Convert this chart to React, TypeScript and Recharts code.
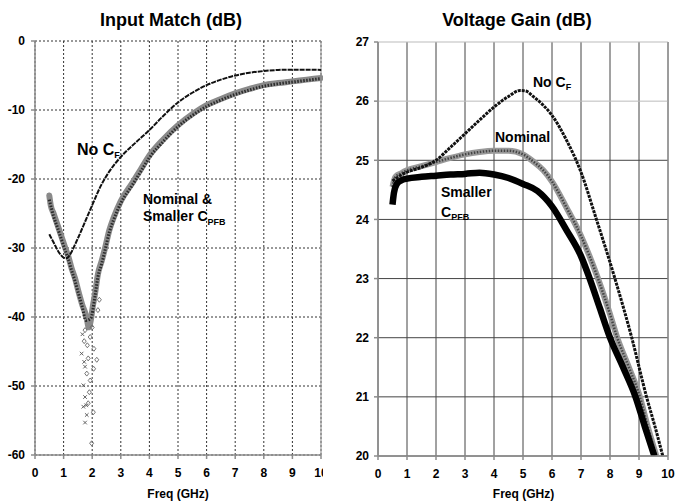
import {
  ComposedChart,
  Line,
  Scatter,
  XAxis,
  YAxis,
  CartesianGrid,
  ReferenceLine,
} from 'recharts';

// shared axis ticks
const FREQ_TICKS = [0, 1, 2, 3, 4, 5, 6, 7, 8, 9, 10];
const MATCH_TICKS = [-60, -50, -40, -30, -20, -10, 0];
const GAIN_TICKS = [20, 21, 22, 23, 24, 25, 26, 27];

// Input match (dB) vs freq (GHz)
const MATCH_NO_CF = [
  [0.5, -28], [0.6, -28.8], [0.7, -29.6], [0.8, -30.4], [0.9, -31], [1.0, -31.4],
  [1.1, -31.5], [1.2, -31.1], [1.3, -30.4], [1.4, -29.5], [1.5, -28.6], [1.75, -26.2],
  [2.0, -23.8], [2.3, -21], [2.6, -18.9], [3.0, -16.8], [3.5, -14.8], [4.0, -12.9],
  [4.5, -10.8], [5.0, -8.9], [5.5, -7.5], [6.0, -6.4], [6.5, -5.6], [7.0, -5.0],
  [7.5, -4.6], [8.0, -4.35], [8.5, -4.2], [9.0, -4.15], [9.5, -4.15], [10, -4.2],
];
const MATCH_NOMINAL = [
  [0.5, -22.4], [0.55, -23.8], [0.65, -25], [0.8, -26.8], [0.93, -28.4], [1.05, -29.9],
  [1.17, -31.3], [1.27, -32.8], [1.4, -34.4], [1.52, -36.3], [1.65, -38.2], [1.8, -40],
  [1.88, -41.5], [1.95, -40.5], [2.02, -38.5], [2.1, -36.6], [2.2, -33.8], [2.33, -31.9],
  [2.45, -30.0], [2.6, -27.4], [2.75, -25.6], [3.0, -23.2], [3.4, -20.6], [3.7, -18.6],
  [4.0, -16.6], [4.5, -14.2], [5.0, -12.2], [5.5, -10.6], [6.0, -9.3], [6.5, -8.4],
  [7.0, -7.6], [7.5, -6.95], [8.0, -6.4], [8.5, -6.1], [9.0, -5.85], [9.5, -5.6], [10, -5.35],
];
const MATCH_SMALLER = [
  [0.5, -23], [0.65, -25.4], [0.8, -27.2], [0.93, -28.8], [1.05, -30.3], [1.17, -31.7],
  [1.27, -33.1], [1.4, -34.8], [1.52, -36.6], [1.65, -38.5], [1.78, -40.5], [1.95, -40.2],
  [2.1, -36.9], [2.2, -34.2], [2.33, -32.3], [2.45, -30.3], [2.6, -27.7], [2.75, -25.9],
  [3.0, -23.5], [3.4, -20.9], [3.7, -18.9], [4.0, -16.9], [4.5, -14.5], [5.0, -12.4],
  [5.5, -10.8], [6.0, -9.5], [6.5, -8.55], [7.0, -7.75], [7.5, -7.1], [8.0, -6.55],
  [8.5, -6.2], [9.0, -5.95], [9.5, -5.7], [10, -5.45],
];
// scattered points in the notch around 2 GHz
const NOTCH_NOMINAL = [
  [1.75, -41.9], [1.93, -42.9], [1.86, -46], [2.16, -46.2], [2.06, -44.6], [1.81, -48.2],
  [1.93, -49.2], [1.9, -50.9], [1.86, -52.5], [2.04, -53.8], [1.98, -58.3], [1.83, -44.1],
  [2.0, -41.5], [1.72, -43.5], [2.2, -39], [2.25, -37.5], [2.05, -47.5],
];
const NOTCH_SMALLER = [
  [1.63, -45.3], [1.75, -47.2], [1.69, -49.9], [1.75, -51.6], [1.69, -53], [1.81, -54.2],
  [1.75, -55.3], [1.79, -52.8], [1.66, -42.5], [1.72, -46.5],
];

// Voltage gain (dB) vs freq (GHz)
const GAIN_NO_CF = [
  [0.5, 24.65], [0.8, 24.75], [1.0, 24.8], [1.5, 24.88], [2.0, 25.0], [2.5, 25.22],
  [3.0, 25.45], [3.5, 25.68], [4.0, 25.9], [4.5, 26.08], [4.9, 26.18], [5.1, 26.17],
  [5.35, 26.08], [5.7, 25.93], [6.0, 25.76], [6.5, 25.34], [7.0, 24.8], [7.5, 24.05],
  [8.17, 23.0], [8.75, 22.0], [9.26, 21.0], [9.55, 20.5], [9.82, 20.0],
];
const GAIN_NOMINAL = [
  [0.5, 24.55], [0.6, 24.72], [0.8, 24.78], [1.0, 24.83], [1.5, 24.9], [2.0, 24.97],
  [2.5, 25.04], [3.0, 25.1], [3.5, 25.14], [4.0, 25.16], [4.5, 25.16], [5.0, 25.1],
  [5.35, 24.98], [5.7, 24.83], [6.0, 24.64], [6.5, 24.2], [7.0, 23.72], [7.55, 23.05],
  [8.0, 22.4], [8.25, 22.0], [8.65, 21.5], [9.03, 21.0], [9.3, 20.5], [9.6, 20.0],
];
const GAIN_SMALLER = [
  [0.5, 24.25], [0.55, 24.45], [0.65, 24.6], [0.8, 24.66], [1.0, 24.69], [1.5, 24.72],
  [2.0, 24.74], [2.5, 24.76], [3.0, 24.77], [3.5, 24.79], [4.0, 24.76], [4.5, 24.7],
  [5.0, 24.6], [5.5, 24.48], [6.0, 24.22], [6.5, 23.82], [7.0, 23.38], [7.3, 23.0],
  [7.65, 22.5], [8.0, 22.0], [8.45, 21.5], [8.88, 21.0], [9.2, 20.5], [9.53, 20.0],
];

const toPoints = (rows: number[][]) => rows.map(([x, y]) => ({ x, y }));

const FONT = "'Liberation Sans', Arial, sans-serif";
const TICK = { fill: '#000', fontSize: 12, fontWeight: 700, fontFamily: FONT };

const Diamond = (props: any) => {
  const { cx, cy } = props;
  return (
    <path
      d={`M${cx},${cy - 2.5}L${cx + 2},${cy}L${cx},${cy + 2.5}L${cx - 2},${cy}Z`}
      fill="none"
      stroke="#666"
      strokeWidth={0.9}
    />
  );
};

const Cross = (props: any) => {
  const { cx, cy } = props;
  return (
    <path
      d={`M${cx - 1.8},${cy - 1.8}L${cx + 1.8},${cy + 1.8}M${cx - 1.8},${cy + 1.8}L${cx + 1.8},${cy - 1.8}`}
      stroke="#555"
      strokeWidth={0.9}
    />
  );
};

function InputMatchChart() {
  return (
    <ComposedChart width={340} height={502} margin={{ top: 41, right: 19, bottom: 0, left: 0 }}>
      <CartesianGrid stroke="#333" strokeDasharray="2 2" />
      <XAxis
        type="number"
        dataKey="x"
        domain={[0, 10]}
        ticks={FREQ_TICKS}
        height={47}
        stroke="#8c8c8c"
        strokeWidth={1.5}
        tickSize={4}
        tickMargin={9}
        tick={TICK}
        interval={0}
      />
      <YAxis
        type="number"
        dataKey="y"
        domain={[-60, 0]}
        ticks={MATCH_TICKS}
        width={35}
        stroke="#8c8c8c"
        strokeWidth={1.5}
        tickSize={4}
        tickMargin={6}
        tick={TICK}
        interval={0}
        allowDataOverflow
      />
      <ReferenceLine x={10} stroke="#999" strokeWidth={1.2} />
      <Line
        data={toPoints(MATCH_NOMINAL)}
        dataKey="y"
        type="monotone"
        stroke="#8a8a8a"
        strokeWidth={6}
        strokeLinecap="round"
        dot={false}
        isAnimationActive={false}
      />
      <Line
        data={toPoints(MATCH_SMALLER)}
        dataKey="y"
        type="monotone"
        stroke="#2a2a2a"
        strokeWidth={3}
        strokeDasharray="1.5 1.5"
        dot={false}
        isAnimationActive={false}
      />
      <Scatter data={toPoints(NOTCH_NOMINAL)} dataKey="y" shape={Diamond} isAnimationActive={false} />
      <Scatter data={toPoints(NOTCH_SMALLER)} dataKey="y" shape={Cross} isAnimationActive={false} />
      <Line
        data={toPoints(MATCH_NO_CF)}
        dataKey="y"
        type="monotone"
        stroke="#111"
        strokeWidth={2}
        strokeDasharray="5 1"
        dot={false}
        isAnimationActive={false}
      />
    </ComposedChart>
  );
}

function VoltageGainChart() {
  return (
    <ComposedChart width={353} height={502} margin={{ top: 42, right: 8, bottom: 0, left: 13 }}>
      <CartesianGrid stroke="#444" horizontal={false} />
      {GAIN_TICKS.map((v) => (
        <ReferenceLine key={v} y={v} stroke={v >= 26 ? '#bbb' : '#444'} strokeWidth={1} />
      ))}
      <XAxis
        type="number"
        dataKey="x"
        domain={[0, 10]}
        ticks={FREQ_TICKS}
        height={46}
        stroke="#8c8c8c"
        strokeWidth={1.5}
        tickSize={4}
        tickMargin={9}
        tick={TICK}
        interval={0}
      />
      <YAxis
        type="number"
        dataKey="y"
        domain={[20, 27]}
        ticks={GAIN_TICKS}
        width={42}
        stroke="#8c8c8c"
        strokeWidth={1.5}
        tickSize={4}
        tickMargin={5}
        tick={TICK}
        interval={0}
        allowDataOverflow
      />
      <ReferenceLine x={10} stroke="#999" strokeWidth={1.2} />
      <Line
        data={toPoints(GAIN_NOMINAL)}
        dataKey="y"
        type="monotone"
        stroke="#999"
        strokeWidth={6}
        dot={false}
        isAnimationActive={false}
      />
      <Line
        data={toPoints(GAIN_NOMINAL)}
        dataKey="y"
        type="monotone"
        stroke="#444"
        strokeWidth={2.5}
        strokeDasharray="1.5 1.5"
        dot={false}
        isAnimationActive={false}
      />
      <Line
        data={toPoints(GAIN_SMALLER)}
        dataKey="y"
        type="monotone"
        stroke="#000"
        strokeWidth={6.5}
        dot={false}
        isAnimationActive={false}
      />
      <Line
        data={toPoints(GAIN_NO_CF)}
        dataKey="y"
        type="monotone"
        stroke="#111"
        strokeWidth={3}
        strokeDasharray="3 1"
        dot={false}
        isAnimationActive={false}
      />
    </ComposedChart>
  );
}

export default function App() {
  const label = { fontFamily: FONT, fontWeight: 700, fill: '#000' };
  return (
    <div style={{ position: 'fixed', left: 0, top: 0, width: 676, height: 502, background: '#fff' }}>
      <div style={{ position: 'absolute', left: 0, top: 0 }}>
        <InputMatchChart />
      </div>
      <div style={{ position: 'absolute', left: 323, top: 0, background: '#fff' }}>
        <VoltageGainChart />
      </div>
      <svg
        width={676}
        height={502}
        style={{ position: 'absolute', left: 0, top: 0, pointerEvents: 'none' }}
      >
        <g {...label}>
          <text x={171} y={26} fontSize={18} textAnchor="middle">Input Match (dB)</text>
          <text x={517} y={26} fontSize={18} textAnchor="middle">Voltage Gain (dB)</text>
          <text x={178} y={497.5} fontSize={12} textAnchor="middle">Freq (GHz)</text>
          <text x={523.5} y={497.5} fontSize={12} textAnchor="middle">Freq (GHz)</text>

          <text x={77} y={155} fontSize={16}>
            No C<tspan fontSize={9} dy={3}>F</tspan>
          </text>
          <text x={143} y={204} fontSize={14}>Nominal &amp;</text>
          <text x={143} y={221} fontSize={14}>
            Smaller C<tspan fontSize={9} dy={3.5}>PFB</tspan>
          </text>

          <text x={533} y={87} fontSize={14}>
            No C<tspan fontSize={9} dy={3}>F</tspan>
          </text>
          <text x={495} y={141.7} fontSize={14}>Nominal</text>
          <text x={441} y={197} fontSize={14}>Smaller</text>
          <text x={441} y={217} fontSize={14}>
            C<tspan fontSize={9} dy={3}>PFB</tspan>
          </text>
        </g>
      </svg>
    </div>
  );
}
